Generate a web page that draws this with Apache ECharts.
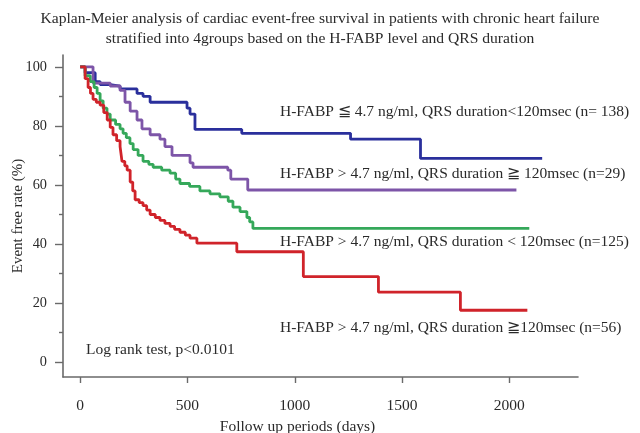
<!DOCTYPE html>
<html>
<head>
<meta charset="utf-8">
<script src="https://cdn.jsdelivr.net/npm/echarts@6/dist/echarts.min.js"></script>
<style>
  html, body { margin: 0; padding: 0; background: #fff; }
  #chart { width: 640px; height: 433px; }
</style>
</head>
<body>
<div id="chart"></div>
<script>
// 各组的随访天数与无事件率 (%)
const blueDays = [0, 23, 70, 93, 140, 186, 265, 293, 326, 498, 512, 535, 753, 1260, 1586, 2153]
const blueRate = [100, 98, 95, 94, 93.5, 92.5, 91, 90, 88, 86, 84, 78.8, 77.5, 75.5, 69, 69]

const purpleDays = [0, 60, 140, 186, 209, 233, 265, 288, 326, 372, 395, 428, 512, 526, 688, 702, 781, 2033]
const purpleRate = [100, 94.5, 93.5, 92, 88, 85, 82, 79, 77, 75.5, 73, 70, 67.5, 66, 65, 62, 58.3, 58.3]

const greenDays = [0, 23, 47, 65, 79, 93, 107, 125, 140, 165, 186, 200, 215, 232, 247, 270, 293, 320, 340, 380, 419, 445, 465, 510, 558, 605, 651, 690, 712, 745, 777, 790, 805, 2093]
const greenRate = [100, 97, 95, 93, 91, 88.5, 86, 84, 82, 80.5, 79, 77.5, 76, 74, 72, 70, 68, 67, 66, 65, 64, 62, 60.5, 59.5, 58, 57, 56, 54.5, 52.5, 51, 49, 47.5, 45.3, 45.3]

const redDays = [0, 23, 37, 48, 60, 75, 93, 110, 126, 140, 153, 170, 186, 195, 208, 219, 233, 245, 256, 275, 293, 310, 326, 350, 372, 395, 419, 440, 465, 490, 512, 544, 730, 1040, 1390, 1772, 2084]
const redRate = [100, 96, 93, 91, 89, 88, 87, 84.5, 82, 79.5, 77, 75, 73, 68, 66.5, 65, 61, 58, 55, 54, 53, 51.5, 50, 49, 48, 47, 46, 45, 44, 43, 42, 40.3, 37.4, 29, 23.7, 17.6, 17.6]

const xTicks = [0, 500, 1000, 1500, 2000]
const yTicks = [0, 20, 40, 60, 80, 100]
const yMinorTicks = [10, 30, 50, 70, 90]

const groupLabels = [
  'H-FABP \u2266 4.7 ng/ml, QRS duration<120msec (n= 138)',
  'H-FABP > 4.7 ng/ml, QRS duration \u2267 120msec (n=29)',
  'H-FABP > 4.7 ng/ml, QRS duration < 120msec (n=125)',
  'H-FABP > 4.7 ng/ml, QRS duration \u2267120msec (n=56)'
]

const serif = '"Liberation Serif", "DejaVu Serif", serif'
const axisColor = '#6a6a6a'
const textColor = '#2a2a2a'

const zip = (xs, ys) => xs.map((x, i) => [x, ys[i]])

const kmSeries = (name, days, rate, color) => ({
  name,
  type: 'line',
  step: 'end',
  data: zip(days, rate),
  showSymbol: false,
  lineStyle: { width: 2.8, color },
  itemStyle: { color },
  animation: false
})

const chart = echarts.init(document.getElementById('chart'))

const labelText = (text, left, top) => ({
  type: 'text',
  left,
  top,
  style: { text, fill: textColor, font: '15.5px ' + serif }
})

chart.setOption({
  backgroundColor: '#fff',
  animation: false,
  title: {
    text: 'Kaplan-Meier analysis of cardiac event-free survival in patients with chronic heart failure\nstratified into 4groups based on the H-FABP level and QRS duration',
    left: 'center',
    top: 4,
    textStyle: { fontFamily: serif, fontSize: 15.6, fontWeight: 'normal', color: textColor, lineHeight: 20 }
  },
  grid: { left: 63, right: 62, top: 55, bottom: 56, outerBoundsMode: 'none' },
  xAxis: {
    type: 'value',
    min: -80,
    max: 2320,
    name: 'Follow up periods (days)',
    nameLocation: 'middle',
    nameGap: 42,
    nameMoveOverlap: false,
    nameTextStyle: { fontFamily: serif, fontSize: 15.5, color: textColor, padding: [0, 46, 0, 0] },
    axisLine: { onZero: false, lineStyle: { color: axisColor, width: 1.6 } },
    axisTick: { customValues: xTicks, length: 6, lineStyle: { color: axisColor, width: 1.4 } },
    axisLabel: { customValues: xTicks, margin: 21, fontFamily: serif, fontSize: 15.5, color: textColor, formatter: v => String(v) },
    splitLine: { show: false }
  },
  yAxis: [{
    type: 'value',
    min: -5,
    max: 104,
    name: 'Event free rate (%)',
    nameLocation: 'middle',
    nameGap: 37,
    nameMoveOverlap: false,
    nameTextStyle: { fontFamily: serif, fontSize: 15, color: textColor },
    axisLine: { onZero: false, lineStyle: { color: axisColor, width: 1.6 } },
    axisTick: { customValues: yTicks, length: 8, lineStyle: { color: axisColor, width: 1.4 } },
    axisLabel: { customValues: yTicks, margin: 16, fontFamily: serif, fontSize: 14.3, color: textColor },
    splitLine: { show: false }
  }, {
    // 次刻度
    type: 'value',
    position: 'left',
    min: -5,
    max: 104,
    axisLine: { show: false, onZero: false },
    axisTick: { customValues: yMinorTicks, length: 4, lineStyle: { color: axisColor, width: 1.4 } },
    axisLabel: { show: false },
    splitLine: { show: false }
  }],
  graphic: [
    labelText(groupLabels[0], 280, 104),
    labelText(groupLabels[1], 280, 166),
    labelText(groupLabels[2], 280, 234),
    labelText(groupLabels[3], 280, 320),
    labelText('Log rank test, p<0.0101', 86, 342)
  ],
  series: [
    kmSeries('blue', blueDays, blueRate, '#2a2f9c'),
    kmSeries('purple', purpleDays, purpleRate, '#7d55a8'),
    kmSeries('green', greenDays, greenRate, '#35a85a'),
    kmSeries('red', redDays, redRate, '#d0232a')
  ]
})
</script>
</body>
</html>
